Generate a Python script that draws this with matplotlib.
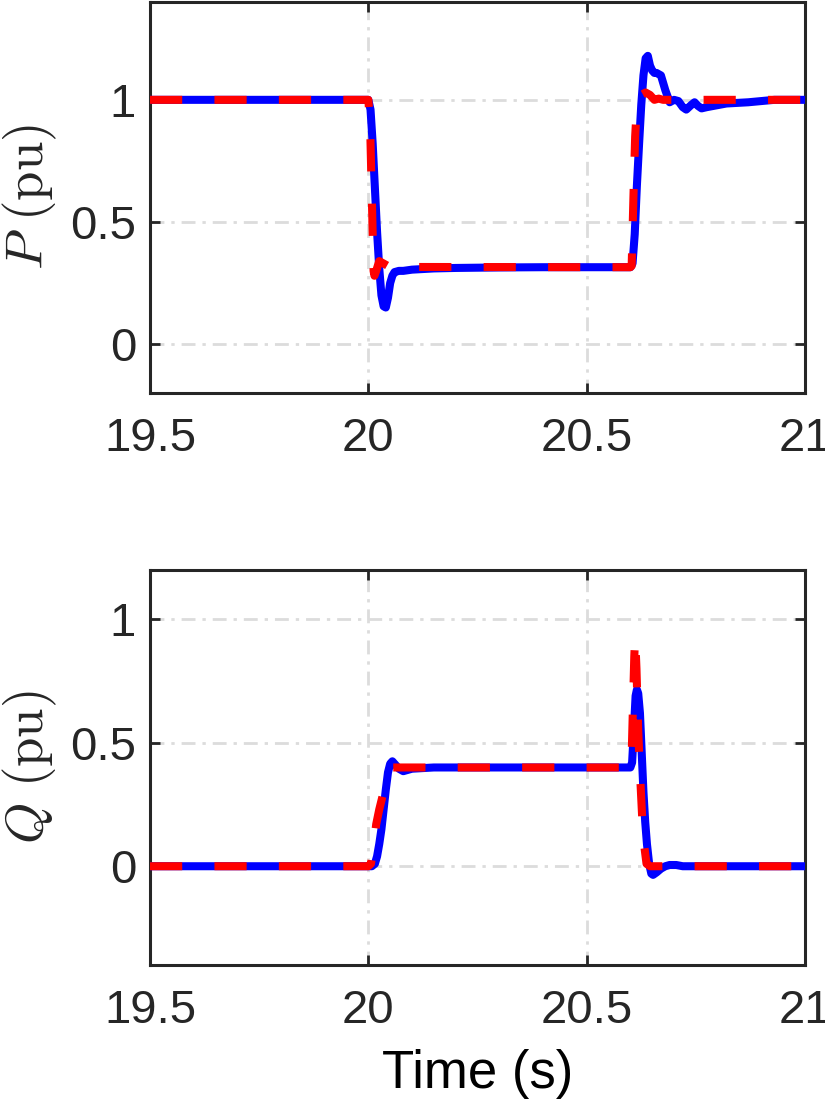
import matplotlib
matplotlib.use('Agg')
import matplotlib.pyplot as plt

# ---- data ----
t_p_meas = [19.5, 20.0, 20.005, 20.01, 20.015, 20.02, 20.025, 20.03, 20.035, 20.04,
            20.045, 20.05, 20.055, 20.06, 20.07, 20.08, 20.1, 20.15, 20.2, 20.3,
            20.4, 20.5, 20.6, 20.605, 20.61, 20.615, 20.62, 20.625, 20.63, 20.635,
            20.64, 20.645, 20.65, 20.655, 20.66, 20.67, 20.68, 20.69, 20.7, 20.71,
            20.72, 20.728, 20.74, 20.747, 20.755, 20.763, 20.775, 20.79, 20.82,
            20.87, 20.93, 21.0]
p_meas = [1.0, 1.0, 0.96, 0.82, 0.64, 0.46, 0.31, 0.2, 0.155, 0.15,
          0.19, 0.25, 0.28, 0.295, 0.30, 0.30, 0.305, 0.31, 0.312, 0.314,
          0.315, 0.315, 0.315, 0.33, 0.45, 0.65, 0.82, 0.98, 1.1, 1.17,
          1.18, 1.14, 1.12, 1.11, 1.11, 1.10, 1.04, 0.99, 1.0, 0.995,
          0.97, 0.96, 0.98, 0.99, 0.975, 0.965, 0.97, 0.975, 0.985,
          0.99, 1.0, 1.0]

t_p_ref = [19.5, 20.0, 20.004, 20.008, 20.012, 20.014, 20.018, 20.025, 20.035, 20.045,
           20.06, 20.1, 20.6, 20.603, 20.607, 20.611, 20.615, 20.625, 20.635, 20.645,
           20.655, 20.665, 20.675, 21.0]
p_ref = [1.0, 1.0, 0.9, 0.6, 0.3, 0.28, 0.3, 0.34, 0.33, 0.32,
         0.318, 0.316, 0.315, 0.32, 0.6, 0.85, 0.98, 1.02, 1.03, 1.02,
         1.0, 1.005, 1.0, 1.0]

t_q_meas = [19.5, 20.0, 20.008, 20.015, 20.02, 20.025, 20.03, 20.035, 20.04, 20.045,
            20.05, 20.055, 20.06, 20.07, 20.08, 20.09, 20.1, 20.15, 20.6, 20.604,
            20.608, 20.612, 20.615, 20.618, 20.622, 20.626, 20.63, 20.634, 20.638,
            20.643, 20.648, 20.652, 20.66, 20.67, 20.68, 20.69, 20.705, 20.72, 21.0]
q_meas = [0.0, 0.0, 0.0, 0.01, 0.04, 0.09, 0.15, 0.23, 0.31, 0.38,
          0.415, 0.425, 0.415, 0.395, 0.385, 0.39, 0.395, 0.40, 0.40, 0.42,
          0.55, 0.69, 0.715, 0.70, 0.62, 0.46, 0.3, 0.18, 0.09,
          0.01, -0.03, -0.035, -0.025, -0.01, 0.0, 0.005, 0.005, 0.0, 0.0]

t_q_ref = [19.5, 20.0, 20.006, 20.012, 20.018, 20.025, 20.032, 20.04, 20.048, 20.055,
           20.07, 20.6, 20.603, 20.606, 20.609, 20.611, 20.614, 20.618, 20.622,
           20.627, 20.632, 20.637, 20.645, 21.0]
q_ref = [0.0, 0.0, 0.01, 0.08, 0.17, 0.23, 0.28, 0.34, 0.385, 0.40,
         0.40, 0.40, 0.45, 0.65, 0.85, 0.93, 0.8, 0.55, 0.38,
         0.2, 0.08, 0.01, 0.0, 0.0]

xticks = [19.5, 20, 20.5, 21]
xticklabels = ['19.5', '20', '20.5', '21']

plt.rcParams['font.family'] = ['Liberation Sans', 'DejaVu Sans']
plt.rcParams['mathtext.fontset'] = 'cm'

txt = '#262626'
lw = 5.8

fig = plt.figure(figsize=(8.25, 11.05), dpi=100)
ax1 = fig.add_axes([0.1818, 0.6443, 0.794, 0.3538])
ax2 = fig.add_axes([0.1818, 0.1267, 0.794, 0.3575])

panels = [
    (ax1, t_p_meas, p_meas, t_p_ref, p_ref, (-0.2, 1.4), r'$P\ \mathrm{(pu)}$'),
    (ax2, t_q_meas, q_meas, t_q_ref, q_ref, (-0.4, 1.2), r'$Q\ \mathrm{(pu)}$'),
]

for ax, tm, ym, tr, yr, ylim, ylab in panels:
    ax.plot(tm, ym, color='#0000ff', lw=lw, solid_joinstyle='round',
            solid_capstyle='round', zorder=3)
    ax.plot(tr, yr, color='#ff0000', lw=lw, linestyle=(0, (4, 4)),
            dash_capstyle='butt', dash_joinstyle='round', zorder=4)
    ax.set_xlim(19.5, 21)
    ax.set_ylim(*ylim)
    ax.set_xticks(xticks)
    ax.set_xticklabels(xticklabels)
    ax.set_yticks([0, 0.5, 1])
    ax.set_yticklabels(['0', '0.5', '1'])
    ax.grid(True, color='#dcdcdc', lw=2.0, linestyle=(0, (5, 2.5, 1.2, 2.5)))
    ax.set_axisbelow(True)
    ax.tick_params(direction='in', length=7, width=2, colors=txt,
                   labelsize=34, top=True, right=True)
    ax.tick_params(axis='x', pad=17)
    ax.tick_params(axis='y', pad=10)
    for s in ax.spines.values():
        s.set_color(txt)
        s.set_linewidth(2.2)
    ax.set_ylabel(ylab, fontsize=38, color=txt, labelpad=8)

ax2.set_xlabel('Time (s)', fontsize=38, color='black', labelpad=12)

fig.savefig('out.png', dpi=100)
